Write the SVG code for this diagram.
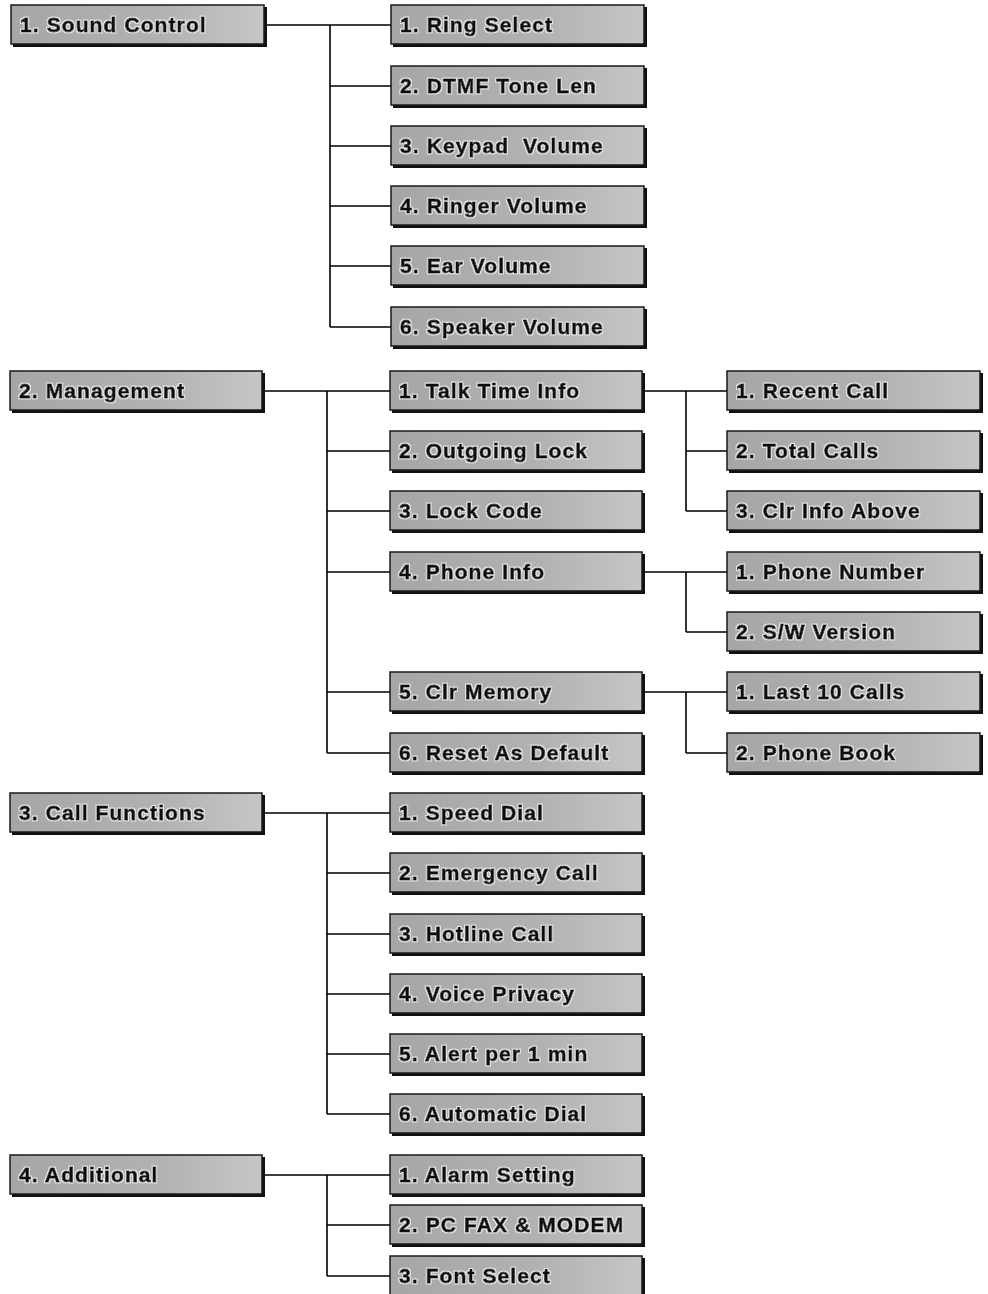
<svg xmlns="http://www.w3.org/2000/svg" width="988" height="1294" viewBox="0 0 988 1294">
<defs>
<linearGradient id="g" x1="0" y1="0" x2="1" y2="0">
<stop offset="0" stop-color="#a6a6a6"/>
<stop offset="0.6" stop-color="#b2b2b2"/>
<stop offset="1" stop-color="#c6c6c6"/>
</linearGradient>
<filter id="halo" x="-5%" y="-20%" width="110%" height="140%">
<feMorphology in="SourceAlpha" operator="dilate" radius="1.1" result="d"/>
<feFlood flood-color="#e6e6e6"/>
<feComposite in2="d" operator="in" result="h"/>
<feMerge><feMergeNode in="h"/><feMergeNode in="SourceGraphic"/></feMerge>
</filter>
<style>
.box{fill:url(#g);stroke:#1a1a1a;stroke-width:1.5}
.sh{fill:#111}
.t{font-family:"Liberation Sans",Arial,sans-serif;font-weight:bold;font-size:21px;letter-spacing:1.1px;fill:#111;stroke:#111;stroke-width:0.8;white-space:pre;filter:url(#halo)}
.c{fill:none;stroke:#000;stroke-width:1.6}
</style>
</defs>
<rect width="988" height="1294" fill="#fff"/>
<g id="connectors" class="c">
<path d="M266 25H391M330 25V327M330 86H391M330 146H391M330 206H391M330 266H391M330 327H391"/>
<path d="M264 391H390M327 391V753M327 451H390M327 511H390M327 572H390M327 692H390M327 753H390"/>
<path d="M645 391H727M686 391V511M686 451H727M686 511H727"/>
<path d="M645 572H727M686 572V632M686 632H727"/>
<path d="M645 692H727M686 692V753M686 753H727"/>
<path d="M264 813H390M327 813V1114M327 873H390M327 934H390M327 994H390M327 1054H390M327 1114H390"/>
<path d="M264 1175H390M327 1175V1276M327 1225H390M327 1276H390"/>
</g>
<g id="n-sound"><rect class="sh" x="13" y="7" width="254" height="40"/><rect class="box" x="11" y="5" width="253" height="39"/><text class="t" x="20" y="32">1. Sound Control</text></g>
<g id="n-mgmt"><rect class="sh" x="12" y="373" width="253" height="40"/><rect class="box" x="10" y="371" width="252" height="39"/><text class="t" x="19" y="398">2. Management</text></g>
<g id="n-call"><rect class="sh" x="12" y="795" width="253" height="40"/><rect class="box" x="10" y="793" width="252" height="39"/><text class="t" x="19" y="820">3. Call Functions</text></g>
<g id="n-add"><rect class="sh" x="12" y="1157" width="253" height="40"/><rect class="box" x="10" y="1155" width="252" height="39"/><text class="t" x="19" y="1182">4. Additional</text></g>

<g id="n-s1"><rect class="sh" x="393" y="7" width="254" height="40"/><rect class="box" x="391" y="5" width="253" height="39"/><text class="t" x="400" y="32">1. Ring Select</text></g>
<g id="n-s2"><rect class="sh" x="393" y="68" width="254" height="40"/><rect class="box" x="391" y="66" width="253" height="39"/><text class="t" x="400" y="93">2. DTMF Tone Len</text></g>
<g id="n-s3"><rect class="sh" x="393" y="128" width="254" height="40"/><rect class="box" x="391" y="126" width="253" height="39"/><text class="t" x="400" y="153">3. Keypad  Volume</text></g>
<g id="n-s4"><rect class="sh" x="393" y="188" width="254" height="40"/><rect class="box" x="391" y="186" width="253" height="39"/><text class="t" x="400" y="213">4. Ringer Volume</text></g>
<g id="n-s5"><rect class="sh" x="393" y="248" width="254" height="40"/><rect class="box" x="391" y="246" width="253" height="39"/><text class="t" x="400" y="273">5. Ear Volume</text></g>
<g id="n-s6"><rect class="sh" x="393" y="309" width="254" height="40"/><rect class="box" x="391" y="307" width="253" height="39"/><text class="t" x="400" y="334">6. Speaker Volume</text></g>

<g id="n-m1"><rect class="sh" x="392" y="373" width="253" height="40"/><rect class="box" x="390" y="371" width="252" height="39"/><text class="t" x="399" y="398">1. Talk Time Info</text></g>
<g id="n-m2"><rect class="sh" x="392" y="433" width="253" height="40"/><rect class="box" x="390" y="431" width="252" height="39"/><text class="t" x="399" y="458">2. Outgoing Lock</text></g>
<g id="n-m3"><rect class="sh" x="392" y="493" width="253" height="40"/><rect class="box" x="390" y="491" width="252" height="39"/><text class="t" x="399" y="518">3. Lock Code</text></g>
<g id="n-m4"><rect class="sh" x="392" y="554" width="253" height="40"/><rect class="box" x="390" y="552" width="252" height="39"/><text class="t" x="399" y="579">4. Phone Info</text></g>
<g id="n-m5"><rect class="sh" x="392" y="674" width="253" height="40"/><rect class="box" x="390" y="672" width="252" height="39"/><text class="t" x="399" y="699">5. Clr Memory</text></g>
<g id="n-m6"><rect class="sh" x="392" y="735" width="253" height="40"/><rect class="box" x="390" y="733" width="252" height="39"/><text class="t" x="399" y="760">6. Reset As Default</text></g>

<g id="n-m11"><rect class="sh" x="729" y="373" width="254" height="40"/><rect class="box" x="727" y="371" width="253" height="39"/><text class="t" x="736" y="398">1. Recent Call</text></g>
<g id="n-m12"><rect class="sh" x="729" y="433" width="254" height="40"/><rect class="box" x="727" y="431" width="253" height="39"/><text class="t" x="736" y="458">2. Total Calls</text></g>
<g id="n-m13"><rect class="sh" x="729" y="493" width="254" height="40"/><rect class="box" x="727" y="491" width="253" height="39"/><text class="t" x="736" y="518">3. Clr Info Above</text></g>
<g id="n-m41"><rect class="sh" x="729" y="554" width="254" height="40"/><rect class="box" x="727" y="552" width="253" height="39"/><text class="t" x="736" y="579">1. Phone Number</text></g>
<g id="n-m42"><rect class="sh" x="729" y="614" width="254" height="40"/><rect class="box" x="727" y="612" width="253" height="39"/><text class="t" x="736" y="639">2. S/W Version</text></g>
<g id="n-m51"><rect class="sh" x="729" y="674" width="254" height="40"/><rect class="box" x="727" y="672" width="253" height="39"/><text class="t" x="736" y="699">1. Last 10 Calls</text></g>
<g id="n-m52"><rect class="sh" x="729" y="735" width="254" height="40"/><rect class="box" x="727" y="733" width="253" height="39"/><text class="t" x="736" y="760">2. Phone Book</text></g>

<g id="n-c1"><rect class="sh" x="392" y="795" width="253" height="40"/><rect class="box" x="390" y="793" width="252" height="39"/><text class="t" x="399" y="820">1. Speed Dial</text></g>
<g id="n-c2"><rect class="sh" x="392" y="855" width="253" height="40"/><rect class="box" x="390" y="853" width="252" height="39"/><text class="t" x="399" y="880">2. Emergency Call</text></g>
<g id="n-c3"><rect class="sh" x="392" y="916" width="253" height="40"/><rect class="box" x="390" y="914" width="252" height="39"/><text class="t" x="399" y="941">3. Hotline Call</text></g>
<g id="n-c4"><rect class="sh" x="392" y="976" width="253" height="40"/><rect class="box" x="390" y="974" width="252" height="39"/><text class="t" x="399" y="1001">4. Voice Privacy</text></g>
<g id="n-c5"><rect class="sh" x="392" y="1036" width="253" height="40"/><rect class="box" x="390" y="1034" width="252" height="39"/><text class="t" x="399" y="1061">5. Alert per 1 min</text></g>
<g id="n-c6"><rect class="sh" x="392" y="1096" width="253" height="40"/><rect class="box" x="390" y="1094" width="252" height="39"/><text class="t" x="399" y="1121">6. Automatic Dial</text></g>

<g id="n-a1"><rect class="sh" x="392" y="1157" width="253" height="40"/><rect class="box" x="390" y="1155" width="252" height="39"/><text class="t" x="399" y="1182">1. Alarm Setting</text></g>
<g id="n-a2"><rect class="sh" x="392" y="1207" width="253" height="40"/><rect class="box" x="390" y="1205" width="252" height="39"/><text class="t" x="399" y="1232">2. PC FAX &amp; MODEM</text></g>
<g id="n-a3"><rect class="sh" x="392" y="1258" width="253" height="40"/><rect class="box" x="390" y="1256" width="252" height="39"/><text class="t" x="399" y="1283">3. Font Select</text></g>
</svg>
